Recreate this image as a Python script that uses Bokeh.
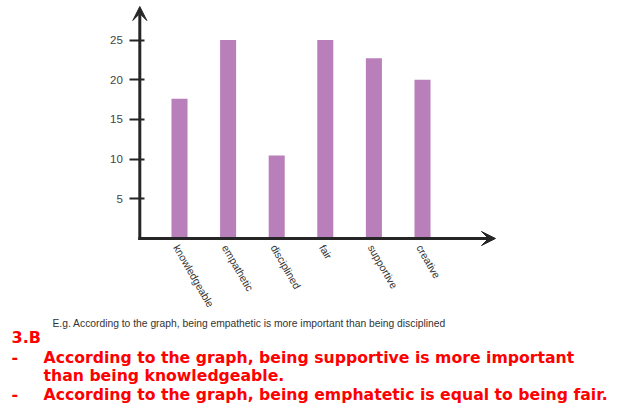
import math
from bokeh.plotting import figure
from bokeh.models import Range1d, FixedTicker, Arrow, VeeHead, Label, LinearAxis
from bokeh.embed import file_html
from bokeh.resources import INLINE

# ---- data ----
categories = ["knowledgeable", "empathetic", "disciplined", "fair", "supportive", "creative"]
values = [17.6, 25, 10.45, 25, 22.7, 20]
y_ticks = [5, 10, 15, 20, 25]

caption = "E.g. According to the graph, being empathetic is more important than being disciplined"
heading = "3.B"
answer_lines = [
    ("-", "According to the graph, being supportive is more important"),
    ("", "than being knowledgeable."),
    ("-", "According to the graph, being emphatetic is equal to being fair."),
]

# ---- layout (pixels in figure coords) ----
W, H = 618, 404
FL, FR, FT, FB = 139.3, 495, 6, 238        # axis lines / arrow tips
PPX = 48.6                                  # px per category step
PPY = 7.94                                  # px per value unit
C0 = 179                                    # first bar centre
X0 = -(C0 - FL) / PPX

def dx(px):
    return X0 + (px - FL) / PPX

def dy(py):
    return (FB - py) / PPY

def mid(baseline, size):
    # anchor for a "middle" baseline text whose alphabetic baseline sits at `baseline`
    return dy(baseline - 0.35 * size)

AX = "#262626"
BAR = "#b97fba"

p = figure(width=W, height=H, x_range=Range1d(dx(0), dx(W)), y_range=Range1d(dy(H), dy(0)),
           output_backend="svg", toolbar_location=None,
           x_axis_type=None, y_axis_type=None,
           min_border_left=0, min_border_right=0, min_border_top=0, min_border_bottom=0)
p.outline_line_color = None
p.grid.visible = False
p.background_fill_color = "white"
p.border_fill_color = "white"

xs = list(range(len(categories)))
p.vbar(x=xs, top=values, bottom=0, width=0.33, fill_color=BAR, line_color=None)

# y axis
ya = LinearAxis(fixed_location=X0)
ya.ticker = FixedTicker(ticks=y_ticks)
ya.axis_line_color = None
ya.major_tick_line_color = AX
ya.major_tick_line_width = 2
ya.major_tick_in = 5
ya.major_tick_out = 10
ya.minor_tick_line_color = None
ya.major_label_standoff = 7
ya.major_label_text_font = "Liberation Sans"
ya.major_label_text_font_size = "11.5px"
ya.major_label_text_color = "#444444"
p.add_layout(ya, "left")

# x axis
SHIFT = -0.0625
tick_pos = [i + SHIFT for i in xs]
xa = LinearAxis(fixed_location=0)
xa.ticker = FixedTicker(ticks=tick_pos)
xa.major_label_overrides = {t: c for t, c in zip(tick_pos, categories)}
xa.axis_line_color = None
xa.major_tick_line_color = None
xa.minor_tick_line_color = None
xa.major_tick_in = 0
xa.major_tick_out = 0
xa.major_label_orientation = -math.pi / 3
xa.major_label_standoff = 7
xa.major_label_text_font = "Liberation Sans"
xa.major_label_text_font_size = "10.5px"
xa.major_label_text_color = "#333333"
p.add_layout(xa, "below")

# axis lines with arrow heads
p.add_layout(Arrow(x_start=dx(FL - 1.5), y_start=0, x_end=dx(FR), y_end=0, line_color=AX, line_width=3,
                   end=VeeHead(size=14, fill_color=AX, line_color=AX, line_width=1)))
p.add_layout(Arrow(x_start=X0, y_start=dy(FB + 1.5), x_end=X0, y_end=dy(FT), line_color=AX, line_width=3,
                   end=VeeHead(size=14, fill_color=AX, line_color=AX, line_width=1)))

# caption
p.add_layout(Label(x=dx(52), y=mid(327, 10.3), text=caption, text_font="Liberation Sans",
                   text_font_size="10.3px", text_color="#333333", text_baseline="middle"))

RED = "#ff0000"
p.add_layout(Label(x=dx(11), y=mid(342.5, 16), text=heading, text_font="DejaVu Sans",
                   text_font_style="bold", text_font_size="16px", text_color=RED,
                   text_baseline="middle"))
bases = [362, 380.5, 399]
for (dash, line), b in zip(answer_lines, bases):
    if dash:
        p.add_layout(Label(x=dx(11), y=mid(b, 16), text=dash, text_font="DejaVu Sans",
                           text_font_style="bold", text_font_size="16px", text_color=RED,
                           text_baseline="middle"))
    p.add_layout(Label(x=dx(43), y=mid(b, 15.7), text=line, text_font="DejaVu Sans",
                       text_font_style="bold", text_font_size="15.7px", text_color=RED,
                       text_baseline="middle"))

open("out.html", "w").write(file_html(p, INLINE))
